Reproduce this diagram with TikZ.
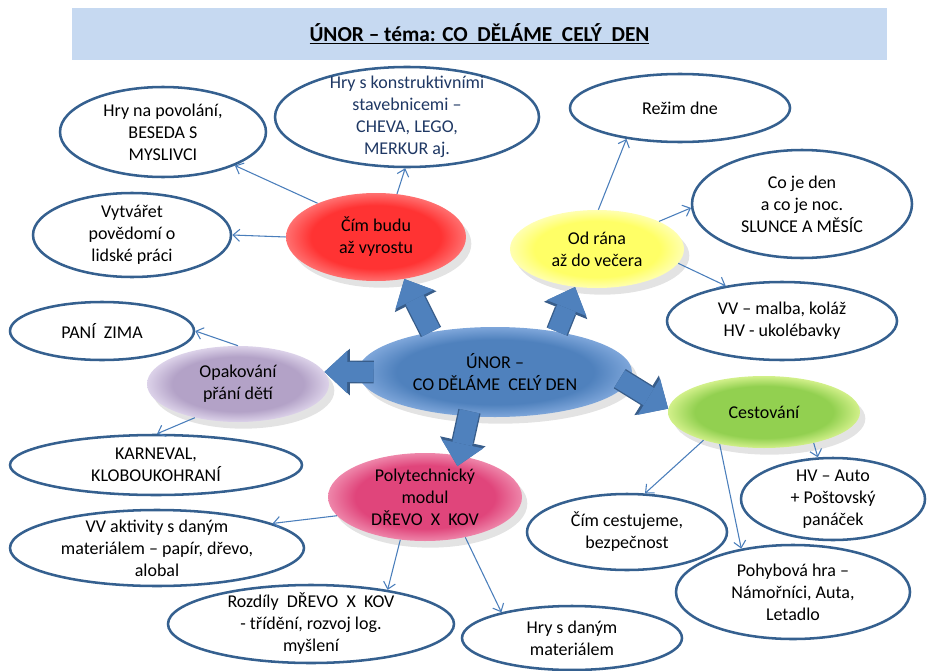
\documentclass[tikz,border=0pt]{standalone}
\usepackage{fontspec}
\setmainfont{Carlito}
\usetikzlibrary{shapes.geometric, arrows.meta, shadows}
\usepackage{xcolor}
\definecolor{BubbleEdge}{HTML}{35608F}
\definecolor{LinkBlue}{HTML}{4A7EBB}
\definecolor{ArrowFill}{HTML}{4F81BD}
\definecolor{ArrowEdge}{HTML}{385D8A}
\definecolor{TitleBlue}{HTML}{C6D9F1}
\definecolor{NavyText}{HTML}{1F3864}
\definecolor{HubBlue}{HTML}{4F81BD}
\definecolor{HubGlow}{HTML}{7EA6DA}
\definecolor{BuduRed}{HTML}{FF3333}
\definecolor{BuduGlow}{HTML}{FF7070}
\definecolor{RanoYellow}{HTML}{FFFF66}
\definecolor{RanoGlow}{HTML}{FFFFB0}
\definecolor{OpakLilac}{HTML}{B3A2C7}
\definecolor{OpakGlow}{HTML}{DCD2E9}
\definecolor{ModulPink}{HTML}{E0457B}
\definecolor{ModulGlow}{HTML}{EE86AA}
\definecolor{CestGreen}{HTML}{92D050}
\definecolor{CestGlow}{HTML}{D2F08A}
\colorlet{glowin}{white}
\colorlet{glowout}{white}
\pgfdeclareradialshading[glowin,glowout]{glow}{\pgfpoint{0bp}{0bp}}{color(0bp)=(glowin); color(18bp)=(glowin); color(25bp)=(glowout); color(50bp)=(glowout)}
\newlength{\pix}
\setlength{\pix}{0.75pt}

\begin{document}
\begin{tikzpicture}[x=0.75pt, y=-0.75pt,
    bubble/.style 2 args={ellipse, draw=BubbleEdge, line width=1.9pt, fill=white, minimum width=#1\pix, minimum height=#2\pix, inner xsep=0pt, inner ysep=-8pt, align=center, font=\fontsize{13.5}{16.5}\selectfont},
    blob/.style 2 args={ellipse, minimum width=#1\pix, minimum height=#2\pix, inner xsep=0pt, inner ysep=-8pt, align=center, font=\fontsize{13.5}{16.5}\selectfont, drop shadow={shadow xshift=4pt, shadow yshift=-5pt, opacity=0.22}},
    glowing/.style 2 args={/utils/exec={\colorlet{glowin}{#1}\colorlet{glowout}{#2}}, shading=glow},
    titlebar/.style={rectangle, fill=TitleBlue, minimum width=815\pix, minimum height=52\pix, font=\bfseries\fontsize{16}{19}\selectfont},
    link/.style={draw=LinkBlue, line width=0.8pt, -{Straight Barb[length=5pt,width=9pt]}},
    fatarrow/.style={draw=ArrowFill, line width=15pt, -{Triangle[width=32pt,length=17pt,line width=0pt]}, preaction={draw=ArrowEdge, line width=17pt, -{Triangle[width=35pt,length=19pt,line width=0pt]}}}
  ]
  \useasboundingbox (0,0) rectangle (928,671);

  % Title
  \node[titlebar] (title) at (479.5,34) {\underline{ÚNOR – téma: CO\ \ DĚLÁME\ \ CELÝ\ \ DEN}};

  % Topics
  \node[blob={274}{90}, glowing={HubBlue}{HubGlow}] (unor) at (495,372) {ÚNOR –\\CO DĚLÁME\ \ CELÝ DEN};
  \node[blob={180}{88}, glowing={BuduRed}{BuduGlow}] (budu) at (376,237) {Čím budu\\až vyrostu};
  \node[blob={174}{78}, glowing={RanoYellow}{RanoGlow}] (rano) at (597,249) {Od rána\\až do večera};
  \node[blob={182}{76}, glowing={OpakLilac}{OpakGlow}] (opakovani) at (238,384) {Opakování\\přání dětí};
  \node[blob={194}{88}, glowing={ModulPink}{ModulGlow}] (modul) at (425,497) {Polytechnický\\modul\\DŘEVO\ \ X\ \ KOV};
  \node[blob={192}{72}, glowing={CestGreen}{CestGlow}] (cestovani) at (764,412) {Cestování};

  % Activities
  \node[bubble={206}{90}] (povolani) at (163,132) {Hry na povolání,\\BESEDA S\\MYSLIVCI};
  \node[bubble={198}{84}] (povedomi) at (132,235) {Vytvářet\\povědomí o\\lidské práci};
  \node[bubble={264}{100}, text=NavyText] (stavebnice) at (407,117) {Hry s konstruktivními\\stavebnicemi –\\CHEVA, LEGO,\\MERKUR aj.};
  \node[bubble={220}{68}] (rezim) at (680,108) {Režim dne};
  \node[bubble={220}{108}] (denanoc) at (802,204) {Co je den\\a co je noc.\\SLUNCE A MĚSÍC};
  \node[bubble={230}{78}] (malba) at (782,321) {VV – malba, koláž\\HV - ukolébavky};
  \node[bubble={184}{58}] (zima) at (102,331) {PANÍ\ \ ZIMA};
  \node[bubble={292}{60}] (karneval) at (156,465) {KARNEVAL,\\KLOBOUKOHRANÍ};
  \node[bubble={294}{76}] (aktivity) at (157,548) {VV aktivity s daným\\materiálem – papír, dřevo,\\alobal};
  \node[bubble={286}{78}] (rozdily) at (311,624) {Rozdíly\ \ DŘEVO\ \ X\ \ KOV\\- třídění, rozvoj log.\\myšlení};
  \node[bubble={220}{64}] (material) at (572,638) {Hry s daným\\materiálem};
  \node[bubble={200}{76}] (cestujeme) at (627,532) {Čím cestujeme,\\bezpečnost};
  \node[bubble={184}{82}] (auto) at (833,499) {HV – Auto\\+ Poštovský\\panáček};
  \node[bubble={234}{94}] (pohyb) at (793,592) {Pohybová hra –\\Námořníci, Auta,\\Letadlo};

  % Big arrows
  \draw[fatarrow] (unor.148) -- (budu.-56);
  \draw[fatarrow] (unor.33) -- (rano.-120);
  \draw[fatarrow, shorten <=-12pt] (unor.180) -- (opakovani.8);
  \draw[fatarrow, shorten <=-4pt, shorten >=-8pt] (unor.-121) -- (modul.50);
  \draw[fatarrow, shorten <=-7pt] (unor.-5) -- (cestovani.178);

  % Links
  \draw[link] (budu.150) -- (povolani.-25);
  \draw[link] (budu.west) -- (povedomi.east);
  \draw[link] (budu.64) -- (stavebnice.-92);
  \draw[link] (rano.88) -- (rezim.-150);
  \draw[link] (rano.24) -- (denanoc.182);
  \draw[link] (rano.-10) -- (malba.148);
  \draw[link] (opakovani.north) -- (zima.east);
  \draw[link] (opakovani.-142) -- (karneval.88);
  \draw[link] (modul.-168) -- (aktivity.12);
  \draw[link] (modul.-120) -- (rozdily.24);
  \draw[link] (modul.-45) -- (material.160);
  \draw[link] (cestovani.-155) -- (cestujeme.65);
  \draw[link] (cestovani.-144) -- (pohyb.140);
  \draw[link] (cestovani.-32) -- (auto.110);
\end{tikzpicture}
\end{document}
